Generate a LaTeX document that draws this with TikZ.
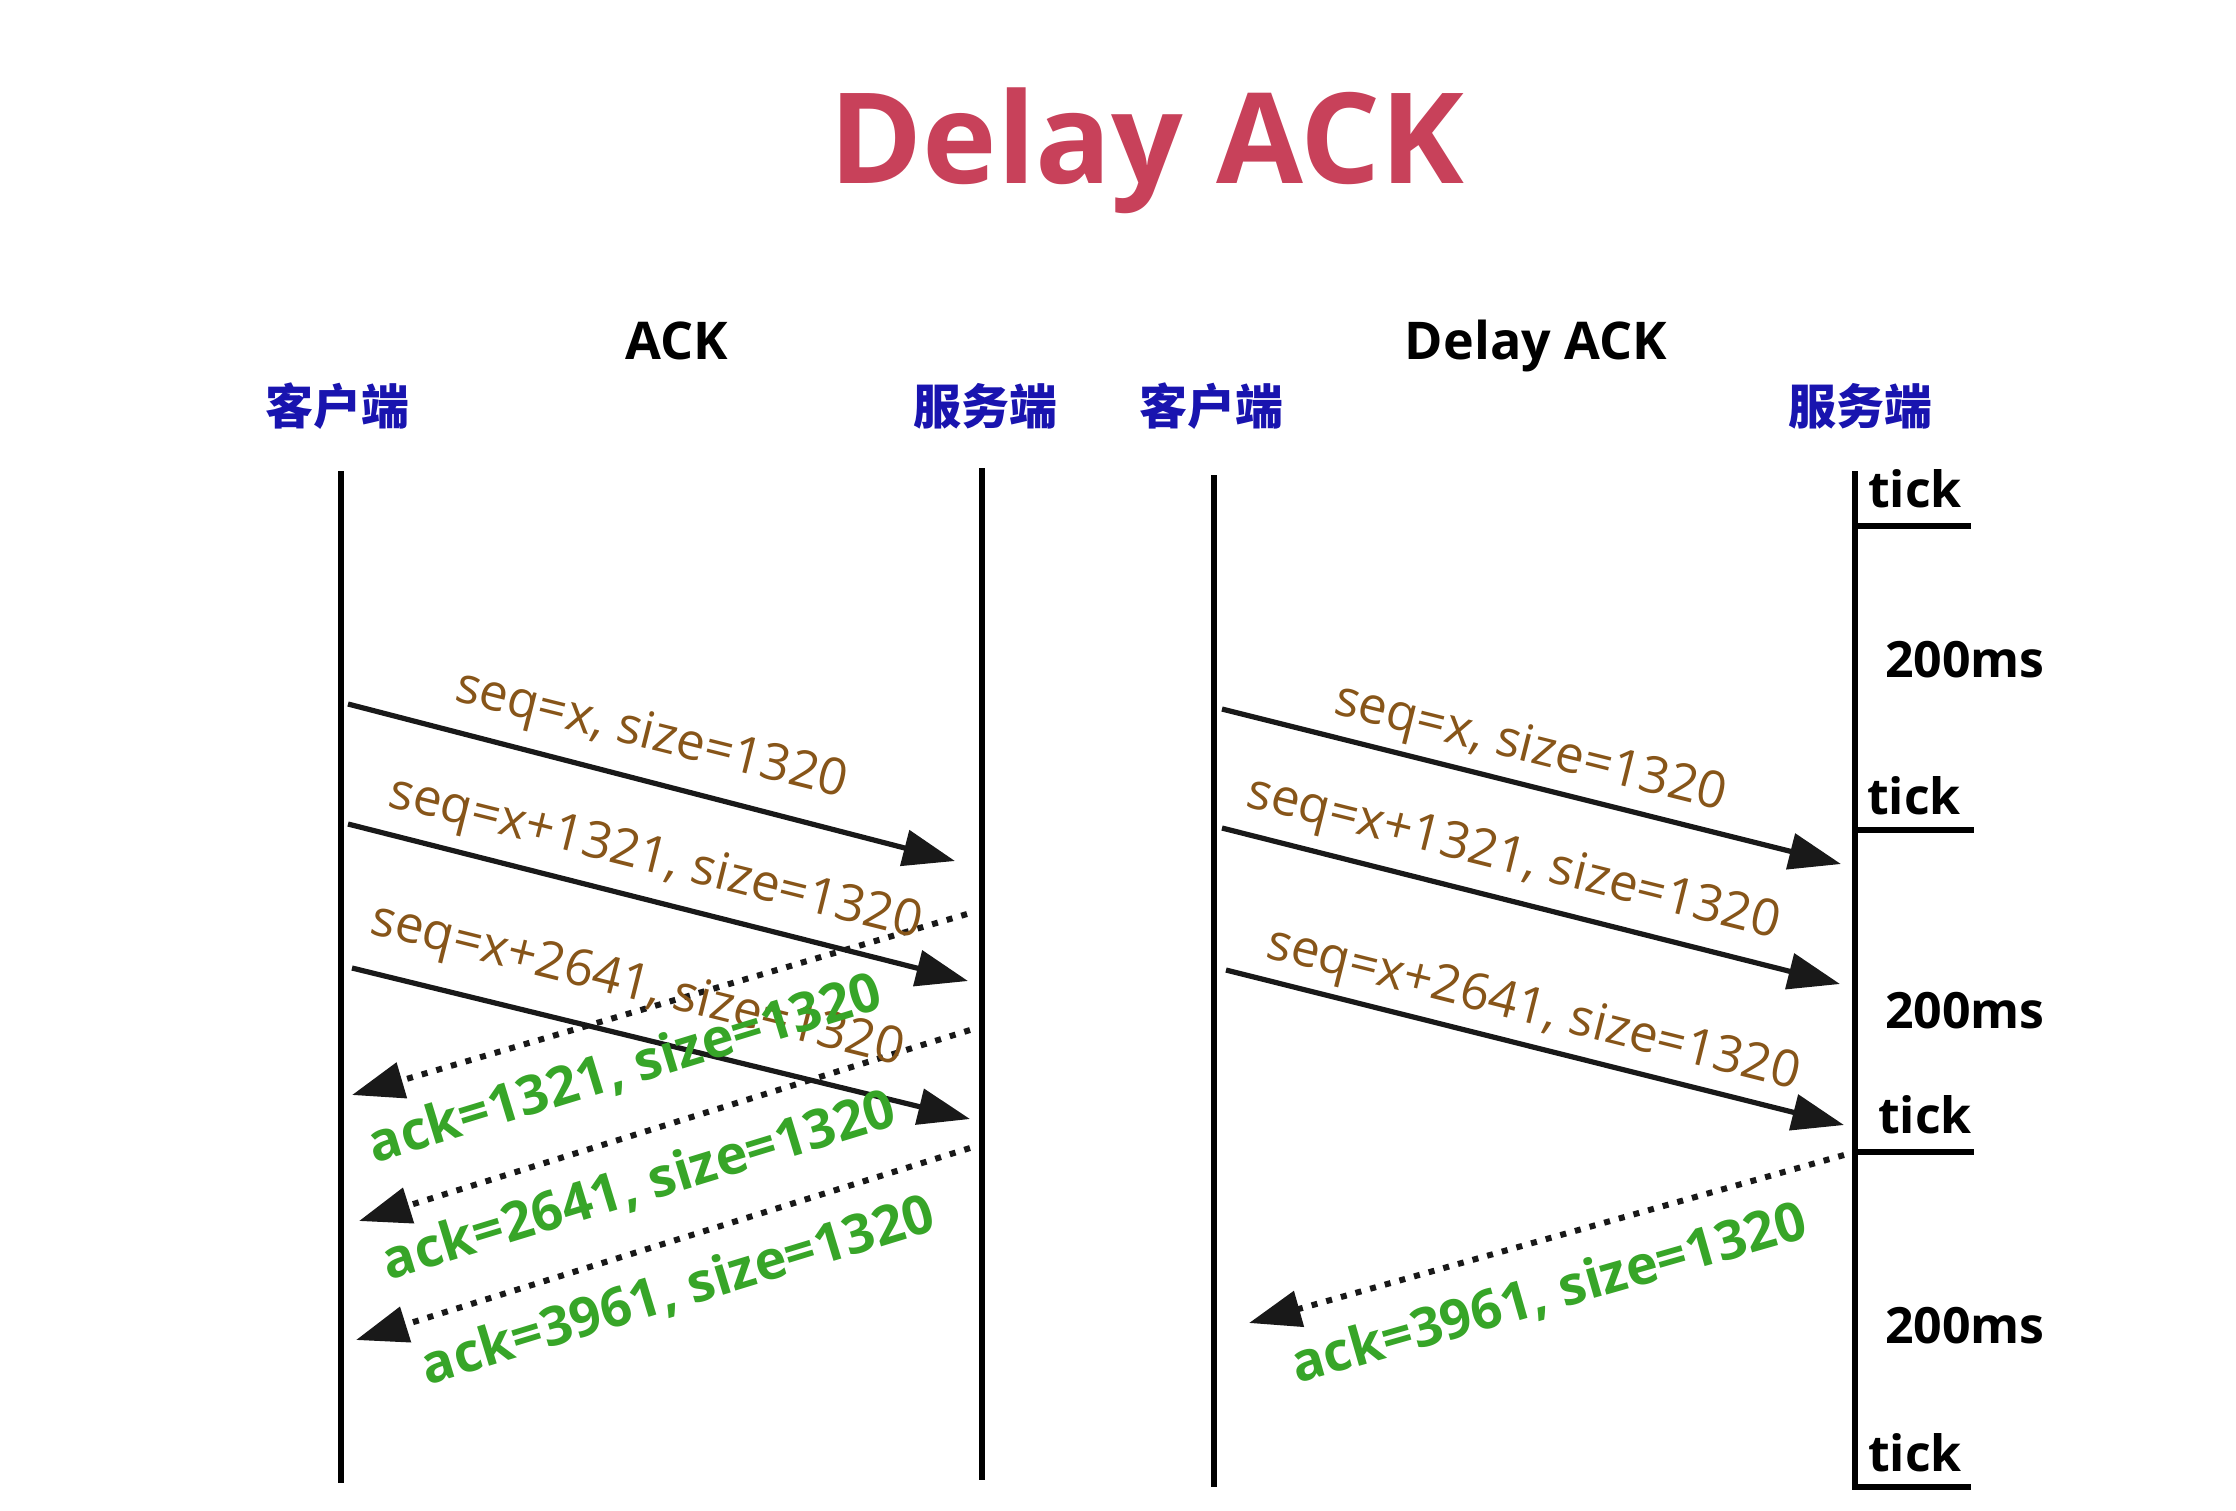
\documentclass[tikz,border=0pt]{standalone}
\usepackage{fontspec}
\setmainfont{Open Sans}
\newfontfamily\cjk{Noto Sans CJK SC}
\usetikzlibrary{arrows.meta}
\definecolor{titlered}{RGB}{200,65,90}
\definecolor{seqbrown}{RGB}{135,85,25}
\definecolor{ackgreen}{RGB}{55,165,40}
\definecolor{hdrblue}{RGB}{25,20,175}
\definecolor{inkgray}{RGB}{25,25,25}
\begin{document}
\begin{tikzpicture}[x=0.5pt,y=-0.5pt,
  life/.style={line width=2.8pt, draw=black},
  tickline/.style={line width=2.8pt, draw=black},
  msg/.style={line width=2.6pt, draw=inkgray, -{Triangle[length=26pt,width=18pt]}},
  ackmsg/.style={line width=3pt, draw=inkgray, dash pattern=on 3pt off 4.6pt, -{Triangle[length=26pt,width=18pt]}},
  seqlbl/.style={text=seqbrown, font=\fontsize{25.5}{30}\selectfont, inner sep=0pt},
  acklbl/.style={text=ackgreen, font=\fontsize{27}{30}\selectfont\bfseries, inner sep=0pt},
  hdr/.style={text=hdrblue, font=\cjk\fontsize{24}{28}\selectfont\bfseries, inner sep=0pt},
  sub/.style={text=black, font=\fontsize{26}{30}\selectfont\bfseries, inner sep=0pt, anchor=base},
  ticklbl/.style={text=black, font=\fontsize{25}{30}\selectfont\bfseries, inner sep=0pt},
]
\useasboundingbox (0,0) rectangle (2236,1510);
\fill[white] (0,0) rectangle (2236,1510);

% title
\node[text=titlered, font=\fontsize{63}{70}\selectfont\bfseries, inner sep=0pt, anchor=base] (title) at (1147,183) {Delay ACK};

% subtitles
\node[sub] (subA) at (677,359) {ACK};
\node[sub] (subD) at (1536,359) {Delay ACK};

% headers
\node[hdr] (hc1) at (337,406) {客户端};
\node[hdr] (hs1) at (985,406) {服务端};
\node[hdr] (hc2) at (1211,406) {客户端};
\node[hdr] (hs2) at (1860,406) {服务端};

% lifelines
\coordinate (c1t) at (341,471);  \coordinate (c1b) at (341,1483);
\coordinate (s1t) at (982,468);  \coordinate (s1b) at (982,1480);
\coordinate (c2t) at (1214,475); \coordinate (c2b) at (1214,1487);
\coordinate (s2t) at (1855,471); \coordinate (s2b) at (1855,1490);
\draw[life] (c1t) -- (c1b);
\draw[life] (s1t) -- (s1b);
\draw[life] (c2t) -- (c2b);
\draw[life] (s2t) -- (s2b);

% ticks
\coordinate (t1a) at (1855,526);  \coordinate (t1b) at (1971,526);
\coordinate (t2a) at (1855,830);  \coordinate (t2b) at (1974,830);
\coordinate (t3a) at (1855,1152); \coordinate (t3b) at (1974,1152);
\coordinate (t4a) at (1855,1487); \coordinate (t4b) at (1971,1487);
\draw[tickline] (t1a) -- (t1b);
\draw[tickline] (t2a) -- (t2b);
\draw[tickline] (t3a) -- (t3b);
\draw[tickline] (t4a) -- (t4b);
\node[ticklbl] (tk1) at (1915,489) {tick};
\node[ticklbl] (tk2) at (1914,796) {tick};
\node[ticklbl] (tk3) at (1925,1115) {tick};
\node[ticklbl] (tk4) at (1915,1453) {tick};
\node[ticklbl] (ms1) at (1965,660) {200ms};
\node[ticklbl] (ms2) at (1965,1011) {200ms};
\node[ticklbl] (ms3) at (1965,1326) {200ms};

% left: ACK
\coordinate (a1s) at (348,704); \coordinate (a1e) at (955,861);
\coordinate (a2s) at (348,824); \coordinate (a2e) at (968,981);
\coordinate (a3s) at (352,968); \coordinate (a3e) at (970,1119);
\draw[msg] (a1s) -- (a1e);
\draw[msg] (a2s) -- (a2e);
\draw[msg] (a3s) -- (a3e);
\coordinate (k1s) at (967,914);  \coordinate (k1e) at (352,1095);
\coordinate (k2s) at (970,1030); \coordinate (k2e) at (359,1221);
\coordinate (k3s) at (970,1148); \coordinate (k3e) at (356,1340);
\draw[ackmsg] (k1s) -- (k1e);
\draw[ackmsg] (k2s) -- (k2e);
\draw[ackmsg] (k3s) -- (k3e);

\node[seqlbl, rotate=-14] (ls1) at (651,737) {seq=x, size=1320};
\node[seqlbl, rotate=-14] (ls2) at (655,860) {seq=x+1321, size=1320};
\node[seqlbl, rotate=-14] (ls3) at (637,987) {seq=x+2641, size=1320};
\node[acklbl, rotate=17] (lk1) at (625,1069) {ack=1321, size=1320};
\node[acklbl, rotate=17] (lk2) at (639,1186) {ack=2641, size=1320};
\node[acklbl, rotate=17] (lk3) at (678,1291) {ack=3961, size=1320};

% right: Delay ACK
\coordinate (b1s) at (1222,709); \coordinate (b1e) at (1841,864);
\coordinate (b2s) at (1222,828); \coordinate (b2e) at (1840,984);
\coordinate (b3s) at (1226,970); \coordinate (b3e) at (1844,1125);
\draw[msg] (b1s) -- (b1e);
\draw[msg] (b2s) -- (b2e);
\draw[msg] (b3s) -- (b3e);
\coordinate (krs) at (1844,1155); \coordinate (kre) at (1249,1323);
\draw[ackmsg] (krs) -- (kre);

\node[seqlbl, rotate=-14] (rs1) at (1530,750) {seq=x, size=1320};
\node[seqlbl, rotate=-14] (rs2) at (1513,860) {seq=x+1321, size=1320};
\node[seqlbl, rotate=-14] (rs3) at (1533,1011) {seq=x+2641, size=1320};
\node[acklbl, rotate=16] (rk) at (1549,1294) {ack=3961, size=1320};
\end{tikzpicture}
\end{document}
